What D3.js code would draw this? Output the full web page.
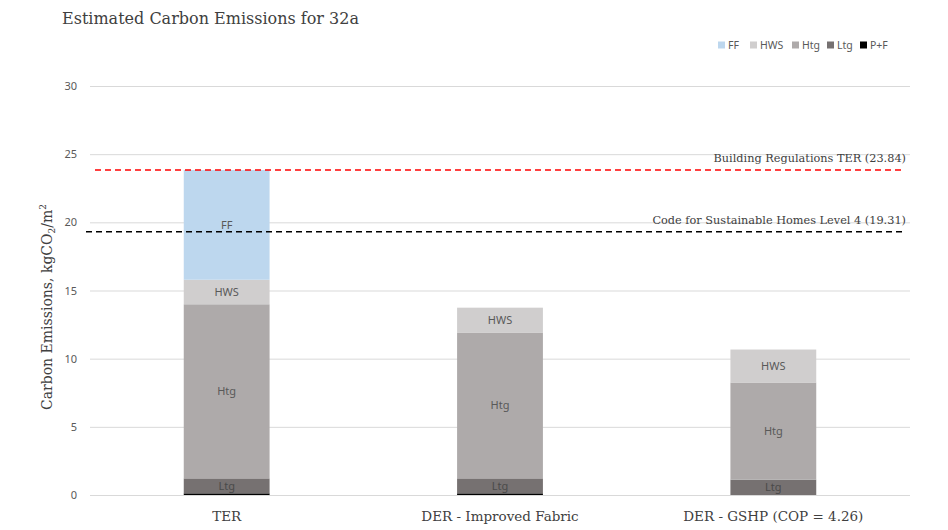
<meta charset="utf-8">
<script src="https://cdn.jsdelivr.net/npm/d3@7"></script>

<style>
  body {
    margin: 0;
    background-color: #ffffff;
  }
  .grid line {
    stroke: #d9d9d9;
    stroke-width: 1;
  }
  .slab {
    font-family: "DejaVu Serif", serif;
  }
</style>

<div id="chart"></div>

<script>
// categories and stacked series (kgCO2/m2), bottom to top
var categories = ["TER", "DER - Improved Fabric", "DER - GSHP (COP = 4.26)"];
var seriesNames = ["P+F", "Ltg", "Htg", "HWS", "FF"];
var pf  = [0.12, 0.12, 0.0];
var ltg = [1.1, 1.1, 1.13];
var htg = [12.77, 10.7, 7.12];
var hws = [1.8, 1.82, 2.42];
var ff  = [8.05, 0, 0];

var yTicks = [0, 5, 10, 15, 20, 25, 30];

// reference lines
var refValues = [23.84, 19.31];
var refLabels = ["Building Regulations TER (23.84)", "Code for Sustainable Homes Level 4 (19.31)"];
var refColors = ["#ff0000", "#000000"];

var colors = {"FF": "#bdd7ee", "HWS": "#d0cece", "Htg": "#aeaaaa", "Ltg": "#767171", "P+F": "#000000"};
var legendOrder = ["FF", "HWS", "Htg", "Ltg", "P+F"];

var width = 948, height = 530;
var margin = {top: 86, right: 38, bottom: 35, left: 90};
var innerW = width - margin.left - margin.right,
    innerH = height - margin.top - margin.bottom;

var svg = d3.select("#chart")
  .append("svg")
    .attr("width", width)
    .attr("height", height);

var g = svg.append("g")
  .attr("transform", "translate(" + margin.left + "," + margin.top + ")");

var x = d3.scaleBand()
  .domain(categories)
  .range([0, innerW])
  .padding(0);

var y = d3.scaleLinear()
  .domain([0, 30])
  .range([innerH, 0]);

// gridlines
g.append("g")
  .attr("class", "grid")
  .call(d3.axisLeft(y).tickValues(yTicks).tickSize(-innerW).tickFormat(""))
  .select(".domain").remove();

// y tick labels
var yAxis = g.append("g")
  .call(d3.axisLeft(y).tickValues(yTicks).tickSize(0).tickPadding(13));
yAxis.select(".domain").remove();
yAxis.selectAll("text")
  .attr("font-family", "Noto Sans, sans-serif")
  .attr("font-size", "11px")
  .attr("fill", "#595959");

// stack the data
var rows = categories.map(function(c, i) {
  return {cat: c, "P+F": pf[i], "Ltg": ltg[i], "Htg": htg[i], "HWS": hws[i], "FF": ff[i]};
});
var stacked = d3.stack().keys(seriesNames)(rows);

var barW = x.bandwidth() * 0.314;

var layers = g.selectAll(".layer")
  .data(stacked)
  .enter()
  .append("g")
    .attr("class", "layer")
    .attr("fill", function(d) { return colors[d.key]; });

layers.selectAll("rect")
  .data(function(d) { return d; })
  .enter()
  .append("rect")
    .attr("x", function(d) { return x(d.data.cat) + (x.bandwidth() - barW) / 2; })
    .attr("y", function(d) { return y(d[1]); })
    .attr("width", barW)
    .attr("height", function(d) { return y(d[0]) - y(d[1]); });

// segment labels (skip P+F and empty segments)
stacked.forEach(function(layer) {
  if (layer.key === "P+F") return;
  g.selectAll(null)
    .data(layer.filter(function(d) { return d[1] - d[0] > 0; }))
    .enter()
    .append("text")
      .attr("x", function(d) { return x(d.data.cat) + x.bandwidth() / 2; })
      .attr("y", function(d) { return y((d[0] + d[1]) / 2); })
      .attr("dy", "0.35em")
      .attr("text-anchor", "middle")
      .attr("font-family", "Noto Sans, sans-serif")
      .attr("font-size", "11px")
      .attr("fill", layer.key === "Ltg" ? "#4a4a4a" : "#595959")
      .text(layer.key);
});

// reference lines
refValues.forEach(function(v, i) {
  g.append("line")
    .attr("x1", i === 0 ? 5 : -4)
    .attr("x2", innerW - 7)
    .attr("y1", y(v))
    .attr("y2", y(v))
    .style("stroke", refColors[i])
    .style("stroke-width", 1.6)
    .style("stroke-dasharray", "6,4");
  g.append("text")
    .attr("class", "slab")
    .attr("x", innerW - 4)
    .attr("y", y(v) - 8)
    .attr("text-anchor", "end")
    .attr("font-size", "11.3px")
    .attr("fill", "#404040")
    .text(refLabels[i]);
});

// x labels
g.selectAll(".xlab")
  .data(categories)
  .enter()
  .append("text")
    .attr("class", "slab")
    .attr("x", function(d) { return x(d) + x.bandwidth() / 2; })
    .attr("y", innerH + 26)
    .attr("text-anchor", "middle")
    .attr("font-size", "13.5px")
    .attr("fill", "#404040")
    .text(function(d) { return d; });

// y axis title
var yt = svg.append("text")
  .attr("class", "slab")
  .attr("transform", "translate(52,307) rotate(-90)")
  .attr("text-anchor", "middle")
  .attr("font-size", "14px")
  .attr("fill", "#404040");
yt.append("tspan").text("Carbon Emissions, kgCO");
yt.append("tspan").attr("font-size", "9px").attr("dy", "3").text("2");
yt.append("tspan").attr("dy", "-3").text("/m");
yt.append("tspan").attr("font-size", "9px").attr("dy", "-6").text("2");

// title
svg.append("text")
  .attr("class", "slab")
  .attr("x", 62)
  .attr("y", 24)
  .attr("font-size", "16px")
  .attr("fill", "#404040")
  .text("Estimated Carbon Emissions for 32a");

// legend
var legX = [718, 750, 792, 827, 860];
var leg = svg.selectAll(".leg")
  .data(legendOrder)
  .enter()
  .append("g")
    .attr("transform", function(d, i) { return "translate(" + legX[i] + ",45)"; });
leg.append("rect")
  .attr("x", 0).attr("y", -3.5)
  .attr("width", 7).attr("height", 7)
  .attr("fill", function(d) { return colors[d]; });
leg.append("text")
  .attr("x", 10)
  .attr("dy", "0.35em")
  .attr("font-family", "Noto Sans, sans-serif")
  .attr("font-size", "10.5px")
  .attr("fill", "#595959")
  .text(function(d) { return d; });
</script>
